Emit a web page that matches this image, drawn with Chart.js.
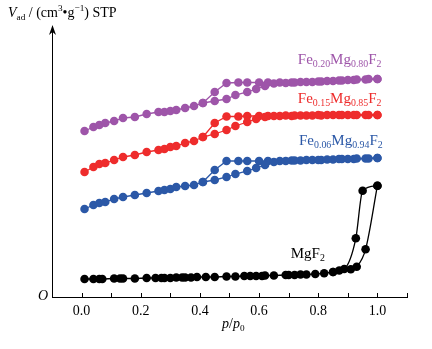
<!DOCTYPE html>
<html>
<head>
<meta charset="utf-8">
<script src="https://cdn.jsdelivr.net/npm/chart.js@4/dist/chart.umd.min.js"></script>
<style>
  html, body { margin: 0; background: #fff; }
  #wrap { width: 432px; height: 349px; }
</style>
</head>
<body>
<div id="wrap"><canvas id="chart01"></canvas></div>
<script>
// p/p0 of the Fe-doped samples
const feAdsX = [0.01, 0.04, 0.06, 0.08, 0.11, 0.14, 0.18, 0.22, 0.26, 0.28, 0.30, 0.32, 0.35, 0.38, 0.41, 0.45,
	0.49, 0.52, 0.56, 0.59, 0.62, 0.65, 0.69, 0.72, 0.76, 0.80, 0.83, 0.87, 0.90, 0.93, 0.97, 1.00];
const feDesX = [1.00, 0.96, 0.92, 0.88, 0.85, 0.81, 0.78, 0.74, 0.71, 0.67, 0.63, 0.60, 0.56, 0.53, 0.49, 0.45, 0.41];

const fe20Ads = [166, 170, 172, 174, 176, 179, 180, 183, 185, 185, 186, 187, 189, 191, 194, 196,
	198, 202, 205, 208, 211, 213.5, 214, 214.5, 215, 215.5, 216, 216.5, 217, 217.5, 218, 218];
const fe20Des = [218, 217.5, 217, 216.5, 216, 215.5, 215, 215, 214.5, 214.5, 214.5, 214.5, 214.5, 214.5, 214, 205, 194];

const fe15Ads = [125, 130, 133, 134, 137, 140, 142, 145, 147, 148, 150, 151, 154, 156, 160, 163,
	167, 171, 175, 178, 180, 181, 181.5, 181.5, 181.5, 182, 182, 182, 182, 182, 182, 182];
const fe15Des = [182, 182, 182, 182, 182, 181.5, 181.5, 181.5, 181, 181, 181, 181, 181, 180.5, 180.5, 174, 160];

const fe06Ads = [88, 92, 94, 95, 98, 100, 102, 104, 106, 107, 108, 110, 111, 112, 115, 117,
	120, 123, 126, 129, 132, 135, 136, 136.5, 137, 137, 137.5, 138, 138, 138.5, 138.5, 139];
const fe06Des = [139, 138.5, 138, 138, 137.5, 137, 137, 136.5, 136.5, 136, 136, 136, 136, 136, 136, 127, 115];

// MgF2 (desorption listed from low to high p/p0 so the smooth curve works)
const mgAdsX = [0.01, 0.04, 0.06, 0.07, 0.11, 0.13, 0.14, 0.18, 0.22, 0.25, 0.27, 0.28, 0.30, 0.32, 0.34, 0.35,
	0.37, 0.39, 0.42, 0.45, 0.49, 0.52, 0.55, 0.57, 0.59, 0.61, 0.62, 0.65, 0.69, 0.70, 0.72, 0.74,
	0.76, 0.79, 0.82, 0.85, 0.91, 0.93, 0.96, 1.00];
const mgAds = [18, 18, 18, 18, 18.5, 18.5, 18.5, 18.5, 19, 19, 19, 19, 19, 19.5, 19.5, 19.5,
	19.5, 20, 20, 20, 20.5, 20.5, 21, 21, 21, 21, 21.5, 21.5, 22, 22, 22, 22.5,
	22.5, 23, 23.7, 25, 27.7, 30.3, 47.7, 111.3];
const mgDesX = [0.85, 0.871, 0.888, 0.927, 0.95, 1.00];
const mgDes = [25, 26.5, 28, 58.7, 106.3, 111.3];

const xLabels = ["0.0", "0.2", "0.4", "0.6", "0.8", "1.0"];

const serif = "'Liberation Serif', 'Times New Roman', serif";
const colors = { fe20: "#9e55a9", fe15: "#ee2c2c", fe06: "#2b58a7", mg: "#000000" };

const toPoints = (xs, ys) => xs.map((x, i) => ({ x, y: ys[i] }));

const series = (xs, ys, color, smooth) => ({
	data: toPoints(xs, ys),
	showLine: true,
	borderColor: color,
	backgroundColor: color,
	borderWidth: 1.3,
	pointRadius: 4.3,
	pointBorderWidth: 0,
	pointHoverRadius: 4.3,
	cubicInterpolationMode: smooth ? "monotone" : "default",
	tension: 0,
});

const labels = [
	{ x: 0.731, y: 237, color: colors.fe20, parts: [["Fe"], ["0.20", 1], ["Mg"], ["0.80", 1], ["F"], ["2", 1]] },
	{ x: 0.731, y: 198, color: colors.fe15, parts: [["Fe"], ["0.15", 1], ["Mg"], ["0.85", 1], ["F"], ["2", 1]] },
	{ x: 0.735, y: 156, color: colors.fe06, parts: [["Fe"], ["0.06", 1], ["Mg"], ["0.94", 1], ["F"], ["2", 1]] },
	{ x: 0.707, y: 43, color: colors.mg, parts: [["MgF"], ["2", 1]] },
];

// draws a run of text pieces, 1 = subscript, 2 = superscript, "i" = italic
function drawRich(ctx, x, y, parts, size, color) {
	ctx.save();
	ctx.fillStyle = color;
	ctx.textBaseline = "middle";
	ctx.textAlign = "left";
	for (const [text, mode, style] of parts) {
		const small = mode === 1 || mode === 2;
		const fs = small ? size * 0.66 : size;
		ctx.font = (style === "i" ? "italic " : "") + fs + "px " + serif;
		const dy = mode === 1 ? size * 0.32 : mode === 2 ? -size * 0.3 : 0;
		ctx.fillText(text, x, y + dy);
		x += ctx.measureText(text).width;
	}
	ctx.restore();
}

const decorations = {
	id: "decorations",
	afterDraw(chart) {
		const { ctx, chartArea: area, scales } = chart;
		ctx.save();
		ctx.strokeStyle = "#000";
		ctx.fillStyle = "#000";
		ctx.lineWidth = 1;

		// inward ticks on the x axis
		for (let i = -1; i <= 11; i++) {
			const px = Math.round(scales.x.getPixelForValue(i / 10)) + 0.5;
			ctx.beginPath();
			ctx.moveTo(px, area.bottom);
			ctx.lineTo(px, area.bottom - 4);
			ctx.stroke();
		}

		// arrow on the y axis
		const ax = area.left + 0.5;
		ctx.beginPath();
		ctx.moveTo(ax, area.top - 2);
		ctx.lineTo(ax - 3.5, area.top + 8);
		ctx.lineTo(ax, area.top + 5);
		ctx.lineTo(ax + 3.5, area.top + 8);
		ctx.closePath();
		ctx.fill();
		ctx.restore();

		drawRich(ctx, area.left - 14, area.bottom - 1, [["O", 0, "i"]], 14, "#000");
		drawRich(ctx, 8, 13, [["V", 0, "i"], ["ad", 1], [" / (cm"], ["3", 2], ["\u2022g"], ["\u22121", 2], [") STP"]], 14, "#000");
		drawRich(ctx, 222, 324, [["p", 0, "i"], ["/"], ["p", 0, "i"], ["0", 1]], 14, "#000");

		for (const l of labels) {
			drawRich(ctx, scales.x.getPixelForValue(l.x), scales.y.getPixelForValue(l.y), l.parts, 15, l.color);
		}
	},
};

const data = {
	datasets: [
		series(mgAdsX, mgAds, colors.mg, true),
		series(mgDesX, mgDes, colors.mg, true),
		series(feAdsX, fe06Ads, colors.fe06),
		series(feDesX, fe06Des, colors.fe06),
		series(feAdsX, fe15Ads, colors.fe15),
		series(feDesX, fe15Des, colors.fe15),
		series(feAdsX, fe20Ads, colors.fe20),
		series(feDesX, fe20Des, colors.fe20),
	],
};

const options = {
	responsive: true,
	maintainAspectRatio: false,
	animation: false,
	devicePixelRatio: 1,
	layout: { padding: { top: 27, right: 25, left: 0, bottom: 0 } },
	plugins: {
		legend: { display: false },
		tooltip: { enabled: false },
	},
	scales: {
		x: {
			type: "linear",
			min: -0.1,
			max: 1.1,
			afterBuildTicks: (scale) => {
				scale.ticks = xLabels.map((t) => ({ value: parseFloat(t) }));
			},
			afterFit: (scale) => {
				scale.height = 52;
			},
			ticks: {
				callback: (value) => xLabels.find((t) => Math.abs(parseFloat(t) - value) < 1e-6) || "",
				color: "#000",
				padding: 6,
				maxRotation: 0,
				font: { family: serif, size: 14 },
			},
			grid: { display: false, drawTicks: false },
			border: { display: true, color: "#000", width: 1 },
		},
		y: {
			min: 0,
			max: 270,
			afterFit: (scale) => {
				scale.width = 52;
			},
			ticks: { display: false },
			grid: { display: false, drawTicks: false },
			border: { display: true, color: "#000", width: 1 },
		},
	},
};

new Chart(document.querySelector("#chart01"), {
	type: "scatter",
	data,
	options,
	plugins: [decorations],
});
</script>
</body>
</html>
